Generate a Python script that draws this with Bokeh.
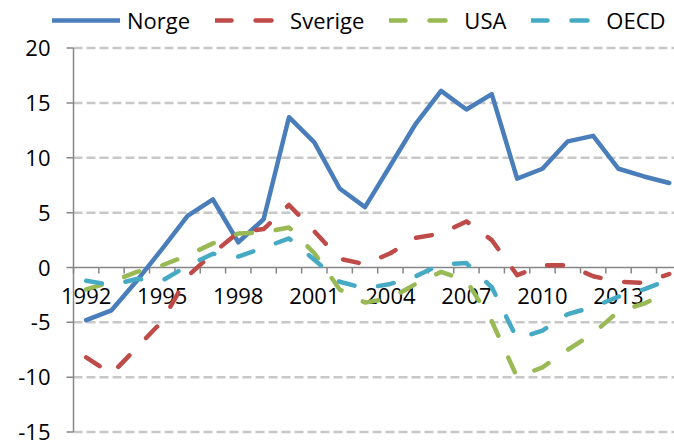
from bokeh.plotting import figure
from bokeh.models import Range1d, Legend, LegendItem
from bokeh.core.properties import value
from bokeh.embed import file_html
from bokeh.resources import INLINE

# ---- data ----
years = list(range(1992, 2016))
norge = [-4.8, -3.9, -1.2, 1.7, 4.7, 6.2, 2.3, 4.4, 13.7, 11.4, 7.2, 5.5,
         9.3, 13.1, 16.1, 14.4, 15.8, 8.1, 9.0, 11.5, 12.0, 9.0, 8.3, 7.7]
sverige = [-8.2, -9.7, -7.3, -4.9, -0.8, 1.3, 3.2, 3.5, 5.7, 3.3, 0.8, 0.3,
           1.3, 2.7, 3.1, 4.2, 2.5, -0.7, 0.2, 0.2, -0.8, -1.3, -1.4, -0.6]
usa = [-2.0, -1.3, -0.4, 0.2, 1.1, 2.2, 3.1, 3.2, 3.65, 1.3, -2.0, -3.2,
       -2.8, -1.5, -0.4, -1.2, -4.9, -10.0, -9.1, -7.5, -6.0, -4.0, -3.3, -2.2]
oecd = [-1.2, -1.6, -1.05, -1.2, 0.15, 1.25, 1.0, 1.8, 2.65, 0.7, -1.3, -1.9,
        -1.5, -0.8, 0.3, 0.4, -1.8, -6.5, -5.75, -4.25, -3.6, -2.65, -2.0, -1.1]
series_names = ["Norge", "Sverige", "USA", "OECD"]
x_tick_labels = ["1992", "1995", "1998", "2001", "2004", "2007", "2010", "2013"]
y_ticks = [-15, -10, -5, 0, 5, 10, 15, 20]
y_tick_labels = ["-15", "-10", "-5", "0", "5", "10", "15", "20"]

# ---- layout / style ----
W, H = 674, 443
AXIS_LEFT_PX = 73      # x pixel of the value axis
CAT_PX = 25.35         # pixels per category
ZERO_PX = 267          # y pixel of value 0
UNIT_PX = 10.97        # pixels per value unit
FONT = "Open Sans"
AXIS_GREY = "#868686"
GRID_GREY = "#c8c8c8"

x_start = -0.5 - AXIS_LEFT_PX / CAT_PX
x_end = -0.5 + (W - AXIS_LEFT_PX) / CAT_PX
y_end = ZERO_PX / UNIT_PX
y_start = (ZERO_PX - H) / UNIT_PX

idx = list(range(len(years)))
axis_x = -0.5

p = figure(width=W, height=H,
           x_range=Range1d(x_start, x_end), y_range=Range1d(y_start, y_end),
           x_axis_location=None, y_axis_location=None,
           output_backend="svg", toolbar_location=None,
           min_border=0)
p.outline_line_color = None
p.grid.visible = False
p.background_fill_color = "white"
p.border_fill_color = "white"

# horizontal dashed grid lines (not at 0, where the category axis lies)
grid_vals = [t for t in y_ticks if t != 0]
p.segment(x0=[axis_x] * len(grid_vals), y0=grid_vals,
          x1=[x_end] * len(grid_vals), y1=grid_vals,
          line_color=GRID_GREY, line_width=2.5, line_dash="9 4")

# value axis (left)
p.segment(x0=[axis_x], y0=[y_ticks[0]], x1=[axis_x], y1=[y_ticks[-1]],
          line_color=AXIS_GREY, line_width=1.5)
tick_out = 7 / CAT_PX
p.segment(x0=[axis_x] * len(y_ticks), y0=y_ticks,
          x1=[axis_x - tick_out] * len(y_ticks), y1=y_ticks,
          line_color=AXIS_GREY, line_width=1.5)
p.text(x=[axis_x] * len(y_ticks), y=y_ticks, text=y_tick_labels,
       x_offset=-23, text_align="right", text_baseline="middle",
       text_font=value(FONT), text_font_size="22px", text_color="black")

# category axis at value 0
p.segment(x0=[axis_x], y0=[0], x1=[x_end], y1=[0],
          line_color=AXIS_GREY, line_width=1.5)
bounds = [i - 0.5 for i in range(len(years) + 1)]
tick_down = 6 / UNIT_PX
p.segment(x0=bounds, y0=[0] * len(bounds), x1=bounds, y1=[-tick_down] * len(bounds),
          line_color=AXIS_GREY, line_width=1.5)
label_pos = [years.index(int(s)) for s in x_tick_labels]
p.text(x=label_pos, y=[0] * len(label_pos), text=x_tick_labels,
       y_offset=28, text_align="center", text_baseline="middle",
       text_font=value(FONT), text_font_size="22px", text_color="black")

# series
colors = ["#4A7EBB", "#BE4B48", "#98B954", "#46AAC5"]
renderers = []
for name, vals, col in zip(series_names, [norge, sverige, usa, oecd], colors):
    kw = dict(line_width=4.5, line_color=col, line_join="round", line_cap="round")
    if name != "Norge":
        kw["line_dash"] = "16 24"
    renderers.append(p.line(idx, vals, **kw))

legend = Legend(items=[LegendItem(label=n, renderers=[r]) for n, r in zip(series_names, renderers)],
                orientation="horizontal", location=(52, H - 35),
                glyph_width=68, glyph_height=24, label_standoff=7, spacing=25,
                padding=0, margin=0, border_line_color=None, background_fill_alpha=0,
                label_text_font=FONT, label_text_font_size="22px",
                label_text_color="black")
p.add_layout(legend)

open("out.html", "w").write(file_html(p, INLINE))
